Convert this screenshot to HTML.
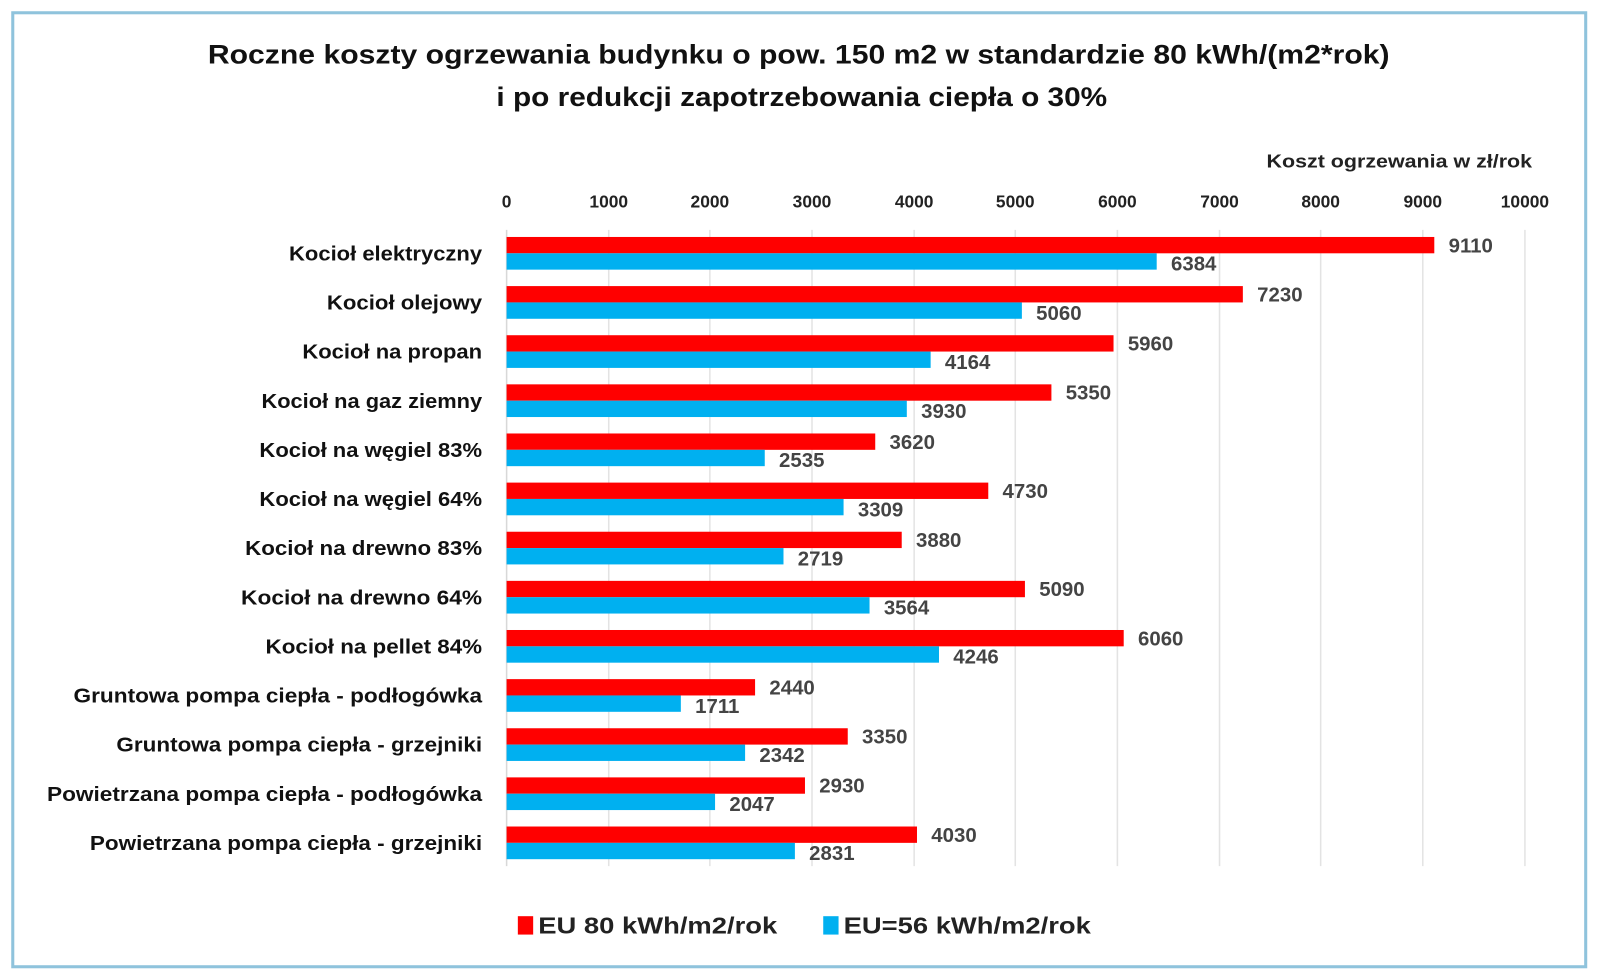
<!DOCTYPE html>
<html><head><meta charset="utf-8"><style>
body{margin:0;background:#fff}
svg text{font-family:"Liberation Sans",sans-serif}
</style></head><body>
<svg width="1600" height="974" viewBox="0 0 1566.5 953.6" preserveAspectRatio="none" xmlns="http://www.w3.org/2000/svg">
<rect x="0" y="0" width="1600" height="974" fill="#fff"/>
<rect x="12.5" y="12.5" width="1540" height="934" fill="#fff" stroke="#8fc3dc" stroke-width="3"/>
<g font-weight="bold" fill="#111" font-size="26" text-anchor="middle">
<text x="782" y="62" textLength="1157" lengthAdjust="spacingAndGlyphs">Roczne koszty ogrzewania budynku o pow. 150 m2 w standardzie 80 kWh/(m2*rok)</text>
<text x="785" y="104" textLength="598" lengthAdjust="spacingAndGlyphs">i po redukcji zapotrzebowania ciepła o 30%</text>
</g>
<text x="1500" y="164" text-anchor="end" font-weight="bold" font-size="18" fill="#222" textLength="260" lengthAdjust="spacingAndGlyphs">Koszt ogrzewania w zł/rok</text>
<g stroke="#e3e3e3" stroke-width="1.5">
<line x1="596" y1="225" x2="596" y2="848"/><line x1="695" y1="225" x2="695" y2="848"/>
<line x1="795" y1="225" x2="795" y2="848"/><line x1="895" y1="225" x2="895" y2="848"/>
<line x1="994" y1="225" x2="994" y2="848"/><line x1="1094" y1="225" x2="1094" y2="848"/>
<line x1="1194" y1="225" x2="1194" y2="848"/><line x1="1293" y1="225" x2="1293" y2="848"/>
<line x1="1393" y1="225" x2="1393" y2="848"/><line x1="1493" y1="225" x2="1493" y2="848"/>
</g>
<line x1="496" y1="225" x2="496" y2="848" stroke="#d8d8d8" stroke-width="1.5"/>
<g font-weight="bold" font-size="17" fill="#222" text-anchor="middle">
<text x="496" y="203">0</text><text x="596" y="203">1000</text><text x="695" y="203">2000</text>
<text x="795" y="203">3000</text><text x="895" y="203">4000</text><text x="994" y="203">5000</text>
<text x="1094" y="203">6000</text><text x="1194" y="203">7000</text><text x="1293" y="203">8000</text>
<text x="1393" y="203">9000</text><text x="1493" y="203">10000</text>
</g>
<g id="bars"></g>
<g id="labels" font-weight="bold" font-size="20" fill="#111" text-anchor="end"></g>
<g id="vals" font-weight="bold" font-size="20" fill="#444"></g>
<rect x="507" y="897" width="15" height="18" fill="#ff0000"/>
<text x="527" y="914" font-weight="bold" font-size="23" fill="#222" textLength="234" lengthAdjust="spacingAndGlyphs">EU 80 kWh/m2/rok</text>
<rect x="806" y="897" width="15" height="18" fill="#00b0f0"/>
<text x="826" y="914" font-weight="bold" font-size="23" fill="#222" textLength="242" lengthAdjust="spacingAndGlyphs">EU=56 kWh/m2/rok</text>
<script>
const d=[["Kocioł elektryczny",9110,6384,189],["Kocioł olejowy",7230,5060,152],["Kocioł na propan",5960,4164,176],["Kocioł na gaz ziemny",5350,3930,216],["Kocioł na węgiel 83%",3620,2535,218],["Kocioł na węgiel 64%",4730,3309,218],["Kocioł na drewno 83%",3880,2719,232],["Kocioł na drewno  64%",5090,3564,236],["Kocioł na pellet 84%",6060,4246,212],["Gruntowa pompa ciepła - podłogówka",2440,1711,400],["Gruntowa pompa ciepła - grzejniki",3350,2342,358],["Powietrzana pompa ciepła - podłogówka",2930,2047,426],["Powietrzana pompa ciepła - grzejniki",4030,2831,384]];
const ns="http://www.w3.org/2000/svg",B=document.getElementById("bars"),L=document.getElementById("labels"),V=document.getElementById("vals");
const sx=v=>496+v*0.0997;
function el(p,t,a,txt){const e=document.createElementNS(ns,t);for(const k in a)e.setAttribute(k,a[k]);if(txt)e.textContent=txt;p.appendChild(e);return e;}
d.forEach((r,i)=>{const y=232+i*48.1;
el(B,"rect",{x:496,y:y,width:sx(r[1])-496,height:16,fill:"#ff0000"});
el(B,"rect",{x:496,y:y+16,width:sx(r[2])-496,height:16,fill:"#00b0f0"});
el(L,"text",{x:472,y:y+23,textLength:r[3],lengthAdjust:"spacingAndGlyphs"},r[0]);
el(V,"text",{x:sx(r[1])+14,y:y+15},String(r[1]));
el(V,"text",{x:sx(r[2])+14,y:y+33},String(r[2]));
});
</script>
</svg>
</body></html>
